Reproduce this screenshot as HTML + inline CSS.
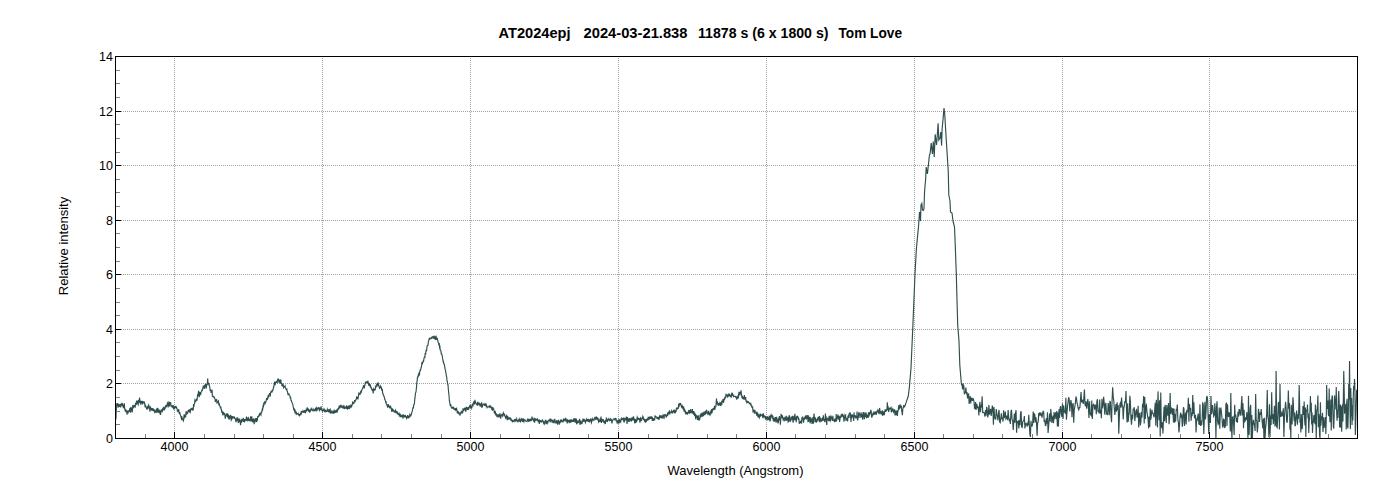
<!DOCTYPE html>
<html><head><meta charset="utf-8"><style>
html,body{margin:0;padding:0;background:#fff;}
body{width:1400px;height:500px;overflow:hidden;}
svg{display:block;}
text{font-family:"Liberation Sans",sans-serif;font-size:13px;fill:#000;}
.ttl text{font-weight:bold;font-size:14px;}
.g{stroke:#a0a0a0;stroke-width:1;stroke-dasharray:1 1;}
</style></head><body>
<svg width="1400" height="500" viewBox="0 0 1400 500">
<rect x="0" y="0" width="1400" height="500" fill="#fff"/>
<line x1="174.5" y1="58" x2="174.5" y2="438" class="g"/><line x1="322.5" y1="58" x2="322.5" y2="438" class="g"/><line x1="470.5" y1="58" x2="470.5" y2="438" class="g"/><line x1="618.5" y1="58" x2="618.5" y2="438" class="g"/><line x1="766.5" y1="58" x2="766.5" y2="438" class="g"/><line x1="914.5" y1="58" x2="914.5" y2="438" class="g"/><line x1="1062.5" y1="58" x2="1062.5" y2="438" class="g"/><line x1="1209.5" y1="58" x2="1209.5" y2="438" class="g"/><line x1="117" y1="383.5" x2="1357" y2="383.5" class="g"/><line x1="117" y1="329.5" x2="1357" y2="329.5" class="g"/><line x1="117" y1="274.5" x2="1357" y2="274.5" class="g"/><line x1="117" y1="220.5" x2="1357" y2="220.5" class="g"/><line x1="117" y1="165.5" x2="1357" y2="165.5" class="g"/><line x1="117" y1="111.5" x2="1357" y2="111.5" class="g"/>
<defs><clipPath id="c"><rect x="115" y="56" width="1242" height="382"/></clipPath></defs>
<path d="M115.90 419.56 L116.15 413.53 L116.40 405.65 L116.73 404.07 L117.07 404.55 L117.40 403.18 L117.73 405.11 L118.07 407.66 L118.40 404.18 L118.74 404.19 L119.08 406.62 L119.42 406.53 L119.76 406.12 L120.10 404.11 L120.44 405.94 L120.78 407.47 L121.12 403.58 L121.46 405.52 L121.80 402.84 L122.11 404.20 L122.43 403.20 L122.74 406.45 L123.06 404.48 L123.37 407.61 L123.69 407.50 L124.00 406.95 L124.33 403.31 L124.67 408.20 L125.00 410.15 L125.33 411.43 L125.67 409.12 L126.00 412.08 L126.35 411.02 L126.70 411.18 L127.05 414.61 L127.40 410.60 L127.75 411.83 L128.10 413.43 L128.45 410.44 L128.80 411.44 L129.14 411.43 L129.49 410.99 L129.83 408.15 L130.17 410.48 L130.51 412.78 L130.86 406.75 L131.20 411.18 L131.53 409.44 L131.86 407.57 L132.19 412.35 L132.51 409.38 L132.84 404.92 L133.17 406.86 L133.50 407.31 L133.84 405.44 L134.18 406.88 L134.52 405.16 L134.85 406.38 L135.19 407.61 L135.53 403.06 L135.87 404.37 L136.21 402.62 L136.55 403.42 L136.88 400.55 L137.22 401.58 L137.56 402.23 L137.90 404.27 L138.23 404.78 L138.55 399.77 L138.88 400.56 L139.21 403.09 L139.53 397.55 L139.86 400.37 L140.19 401.18 L140.51 403.47 L140.84 402.74 L141.17 401.34 L141.49 401.48 L141.82 401.81 L142.15 404.72 L142.47 401.49 L142.80 401.54 L143.12 402.93 L143.45 402.46 L143.77 402.62 L144.09 401.46 L144.42 403.62 L144.74 403.40 L145.06 406.57 L145.38 406.39 L145.71 405.97 L146.03 407.76 L146.35 406.75 L146.68 409.54 L147.00 408.30 L147.32 409.35 L147.65 406.37 L147.97 409.05 L148.29 405.75 L148.62 405.15 L148.94 407.88 L149.26 406.82 L149.58 408.46 L149.91 411.79 L150.23 406.82 L150.55 407.25 L150.88 408.75 L151.20 409.44 L151.53 408.53 L151.86 408.67 L152.19 410.33 L152.52 410.25 L152.85 408.00 L153.18 409.86 L153.51 410.39 L153.84 408.96 L154.16 411.41 L154.49 409.89 L154.82 413.10 L155.15 412.05 L155.48 412.02 L155.81 410.98 L156.14 411.70 L156.47 408.52 L156.80 409.74 L157.15 412.04 L157.50 407.91 L157.85 412.72 L158.20 408.57 L158.55 412.74 L158.90 410.29 L159.25 413.08 L159.60 412.20 L159.95 409.66 L160.30 414.35 L160.63 414.35 L160.95 411.61 L161.28 410.98 L161.61 410.86 L161.93 409.21 L162.26 412.23 L162.59 409.23 L162.91 409.67 L163.24 408.12 L163.57 408.07 L163.89 406.71 L164.22 410.52 L164.55 407.92 L164.87 409.40 L165.20 407.48 L165.52 406.11 L165.85 406.43 L166.17 405.73 L166.49 406.30 L166.82 405.33 L167.14 405.12 L167.46 403.07 L167.78 403.72 L168.11 407.47 L168.43 403.49 L168.75 402.68 L169.08 404.76 L169.40 406.36 L169.73 401.89 L170.05 404.12 L170.38 403.71 L170.71 402.21 L171.03 406.62 L171.36 405.78 L171.69 406.31 L172.01 405.34 L172.34 407.65 L172.67 406.36 L172.99 407.27 L173.32 405.87 L173.65 405.75 L173.97 409.80 L174.30 406.61 L174.65 407.86 L175.00 407.27 L175.35 406.56 L175.70 406.50 L176.05 408.52 L176.40 407.35 L176.75 408.06 L177.10 408.88 L177.45 411.28 L177.80 410.94 L178.12 411.10 L178.45 410.09 L178.77 409.17 L179.09 413.27 L179.42 413.61 L179.74 412.19 L180.06 413.82 L180.38 414.94 L180.71 415.94 L181.03 417.13 L181.35 415.96 L181.68 420.16 L182.00 416.58 L182.33 419.87 L182.66 419.07 L182.99 419.42 L183.32 420.78 L183.65 419.88 L183.98 415.40 L184.31 414.34 L184.64 418.22 L184.96 415.03 L185.29 416.33 L185.62 417.25 L185.95 412.64 L186.28 411.24 L186.61 414.47 L186.94 413.63 L187.27 412.81 L187.60 413.06 L187.93 411.35 L188.25 410.07 L188.58 412.04 L188.91 410.52 L189.23 409.23 L189.56 412.54 L189.89 411.47 L190.21 412.06 L190.54 409.57 L190.87 409.79 L191.19 408.82 L191.52 408.53 L191.85 409.82 L192.17 407.82 L192.50 409.31 L192.85 408.47 L193.20 410.36 L193.55 403.93 L193.90 406.67 L194.25 404.13 L194.60 403.33 L194.95 400.15 L195.30 400.95 L195.65 402.10 L196.00 399.93 L196.32 399.75 L196.65 398.68 L196.97 400.56 L197.29 398.21 L197.62 394.23 L197.94 396.19 L198.26 393.57 L198.58 390.91 L198.91 394.75 L199.23 397.24 L199.55 394.72 L199.88 392.40 L200.20 392.47 L200.55 395.16 L200.90 392.88 L201.25 391.93 L201.60 390.91 L201.95 390.14 L202.30 390.45 L202.65 389.13 L203.00 387.75 L203.33 385.52 L203.67 387.96 L204.00 385.99 L204.33 388.83 L204.67 384.87 L205.00 386.46 L205.33 386.36 L205.67 383.89 L206.00 388.54 L206.33 387.52 L206.67 383.87 L207.00 385.35 L207.33 384.14 L207.67 378.66 L208.00 382.61 L208.33 383.04 L208.67 384.18 L209.00 383.17 L209.38 385.68 L209.75 386.98 L210.12 390.31 L210.50 390.07 L210.81 389.96 L211.12 392.98 L211.44 390.26 L211.75 391.27 L212.06 389.75 L212.38 396.06 L212.69 395.89 L213.00 396.62 L213.33 396.88 L213.67 396.63 L214.00 397.48 L214.33 397.38 L214.67 398.07 L215.00 399.04 L215.33 401.87 L215.67 400.71 L216.00 400.05 L216.33 399.53 L216.67 399.77 L217.00 403.72 L217.33 402.25 L217.67 401.81 L218.00 401.38 L218.35 400.90 L218.70 403.35 L219.05 405.68 L219.40 404.48 L219.75 405.68 L220.10 406.68 L220.45 408.26 L220.80 406.55 L221.15 409.79 L221.50 409.79 L221.86 413.06 L222.22 410.80 L222.58 413.38 L222.94 415.34 L223.30 412.84 L223.63 412.52 L223.95 414.07 L224.28 414.12 L224.61 412.95 L224.93 415.76 L225.26 418.70 L225.59 415.34 L225.91 415.62 L226.24 414.29 L226.57 416.42 L226.89 413.72 L227.22 413.77 L227.55 417.51 L227.87 413.89 L228.20 417.10 L228.54 417.97 L228.88 416.12 L229.21 416.82 L229.55 419.33 L229.89 416.13 L230.22 415.80 L230.56 414.90 L230.90 417.49 L231.24 420.09 L231.57 419.41 L231.91 416.37 L232.25 416.42 L232.59 416.84 L232.92 417.96 L233.26 417.05 L233.60 417.71 L233.93 417.92 L234.26 417.13 L234.59 417.81 L234.92 418.53 L235.25 418.42 L235.58 419.74 L235.91 422.30 L236.24 420.55 L236.56 419.99 L236.89 417.45 L237.22 421.06 L237.55 417.51 L237.88 418.58 L238.21 422.42 L238.54 422.33 L238.87 421.06 L239.20 418.64 L239.53 420.71 L239.87 420.17 L240.20 422.34 L240.53 425.10 L240.87 421.99 L241.20 420.56 L241.53 419.98 L241.87 421.64 L242.20 421.08 L242.53 418.98 L242.87 420.46 L243.20 417.92 L243.53 421.29 L243.87 421.15 L244.20 421.34 L244.53 419.13 L244.87 421.05 L245.20 420.22 L245.53 419.84 L245.87 419.76 L246.20 417.94 L246.53 417.43 L246.86 420.86 L247.19 419.20 L247.52 419.91 L247.85 421.29 L248.18 416.98 L248.51 418.59 L248.84 420.14 L249.16 420.41 L249.49 419.01 L249.82 421.11 L250.15 419.61 L250.48 417.17 L250.81 417.56 L251.14 420.38 L251.47 419.93 L251.80 416.29 L252.13 421.80 L252.46 420.85 L252.79 422.28 L253.12 419.61 L253.45 419.77 L253.78 418.35 L254.11 424.19 L254.44 419.77 L254.76 422.71 L255.09 419.28 L255.42 420.80 L255.75 417.97 L256.08 420.04 L256.41 422.06 L256.74 418.10 L257.07 421.44 L257.40 419.81 L257.72 416.79 L258.05 416.97 L258.37 416.42 L258.69 416.55 L259.02 415.29 L259.34 414.39 L259.66 414.83 L259.98 413.26 L260.31 413.30 L260.63 414.22 L260.95 414.80 L261.28 411.75 L261.60 412.94 L261.95 410.79 L262.30 409.00 L262.65 409.58 L263.00 406.73 L263.35 407.56 L263.70 403.77 L264.05 404.49 L264.40 403.29 L264.75 402.20 L265.10 403.13 L265.45 401.80 L265.80 402.03 L266.15 400.68 L266.50 398.85 L266.85 399.18 L267.20 398.63 L267.55 399.12 L267.90 396.66 L268.25 397.16 L268.60 394.88 L268.95 396.92 L269.30 394.48 L269.65 393.15 L270.00 394.54 L270.35 395.24 L270.70 391.94 L271.05 392.03 L271.40 392.04 L271.75 391.22 L272.10 392.35 L272.45 390.46 L272.80 389.84 L273.14 389.85 L273.48 386.99 L273.82 386.92 L274.16 384.12 L274.50 382.66 L274.83 381.64 L275.17 385.29 L275.50 382.54 L275.83 382.69 L276.17 381.89 L276.50 381.56 L276.83 381.27 L277.17 383.16 L277.50 379.91 L277.83 379.32 L278.17 379.86 L278.50 379.44 L278.83 381.91 L279.17 382.18 L279.50 380.43 L279.83 380.14 L280.17 381.45 L280.50 383.56 L280.88 379.67 L281.25 384.00 L281.62 383.04 L282.00 386.13 L282.33 384.19 L282.67 385.35 L283.00 384.28 L283.33 385.03 L283.67 387.73 L284.00 387.26 L284.35 386.45 L284.70 386.45 L285.05 385.85 L285.40 387.96 L285.75 388.82 L286.10 389.25 L286.45 389.73 L286.80 389.14 L287.15 390.97 L287.50 391.69 L287.85 393.81 L288.20 395.11 L288.55 393.64 L288.90 393.67 L289.25 395.14 L289.60 395.26 L289.95 396.13 L290.30 397.82 L290.65 397.67 L291.00 400.34 L291.35 400.46 L291.70 401.76 L292.05 402.49 L292.40 403.17 L292.75 404.27 L293.10 406.45 L293.45 407.57 L293.80 409.88 L294.15 410.37 L294.50 409.62 L294.85 411.84 L295.20 410.98 L295.55 412.42 L295.90 413.40 L296.22 411.59 L296.55 413.99 L296.87 414.08 L297.19 413.79 L297.52 413.60 L297.84 413.85 L298.16 413.47 L298.48 414.52 L298.81 414.45 L299.13 415.27 L299.45 413.87 L299.78 415.34 L300.10 415.09 L300.42 414.24 L300.75 413.37 L301.07 413.89 L301.39 410.95 L301.72 412.74 L302.04 412.09 L302.36 411.85 L302.68 411.82 L303.01 410.71 L303.33 411.23 L303.65 412.32 L303.98 412.17 L304.30 411.90 L304.63 410.08 L304.95 412.21 L305.28 412.69 L305.61 412.24 L305.93 411.09 L306.26 408.86 L306.59 411.33 L306.91 410.02 L307.24 407.43 L307.57 410.64 L307.89 408.76 L308.22 409.11 L308.55 409.92 L308.87 411.99 L309.20 410.13 L309.53 410.70 L309.86 412.12 L310.19 411.77 L310.52 409.78 L310.85 409.54 L311.18 408.41 L311.51 409.04 L311.84 410.31 L312.16 410.34 L312.49 410.08 L312.82 411.03 L313.15 409.07 L313.48 409.73 L313.81 410.46 L314.14 410.19 L314.47 410.65 L314.80 409.90 L315.13 409.17 L315.46 409.95 L315.79 408.51 L316.12 407.83 L316.45 410.22 L316.78 409.52 L317.11 409.88 L317.44 407.70 L317.76 409.14 L318.09 408.90 L318.42 408.63 L318.75 407.11 L319.08 409.13 L319.41 410.37 L319.74 409.72 L320.07 408.60 L320.40 409.23 L320.73 410.12 L321.06 406.39 L321.39 409.28 L321.72 410.00 L322.05 410.11 L322.38 411.15 L322.71 410.48 L323.04 409.58 L323.36 409.61 L323.69 410.27 L324.02 409.02 L324.35 409.79 L324.68 411.05 L325.01 412.40 L325.34 410.26 L325.67 410.45 L326.00 410.71 L326.33 411.96 L326.66 410.46 L326.99 412.04 L327.32 409.38 L327.65 410.20 L327.98 410.18 L328.31 411.27 L328.64 411.63 L328.96 409.01 L329.29 409.85 L329.62 411.43 L329.95 410.57 L330.28 409.83 L330.61 412.76 L330.94 412.33 L331.27 412.50 L331.60 411.64 L331.92 413.29 L332.25 411.93 L332.57 413.36 L332.89 411.16 L333.22 411.20 L333.54 412.32 L333.86 411.33 L334.18 412.81 L334.51 412.36 L334.83 411.06 L335.15 412.09 L335.48 411.54 L335.80 412.76 L336.13 410.59 L336.45 410.25 L336.78 411.48 L337.11 412.04 L337.43 411.28 L337.76 408.74 L338.09 408.54 L338.41 409.68 L338.74 407.69 L339.07 406.64 L339.39 407.71 L339.72 407.96 L340.05 406.43 L340.37 405.35 L340.70 405.31 L341.04 407.68 L341.39 406.17 L341.73 406.81 L342.07 407.15 L342.42 407.58 L342.76 406.59 L343.11 407.61 L343.45 406.29 L343.79 407.06 L344.14 406.54 L344.48 409.02 L344.82 407.88 L345.17 407.17 L345.51 407.64 L345.86 407.81 L346.20 408.82 L346.54 406.04 L346.88 406.35 L347.22 406.79 L347.55 409.71 L347.89 407.85 L348.23 406.60 L348.57 407.43 L348.91 408.81 L349.25 406.22 L349.58 405.87 L349.92 407.32 L350.26 406.26 L350.60 406.19 L350.94 404.65 L351.28 407.04 L351.62 406.57 L351.95 405.06 L352.29 404.86 L352.63 401.55 L352.97 404.04 L353.31 402.77 L353.65 403.13 L353.98 403.16 L354.32 401.86 L354.66 400.23 L355.00 402.25 L355.34 400.49 L355.69 400.33 L356.03 399.38 L356.38 399.00 L356.72 396.22 L357.06 399.39 L357.41 397.73 L357.75 398.07 L358.09 398.46 L358.44 395.87 L358.78 393.51 L359.12 394.17 L359.47 393.53 L359.81 393.96 L360.16 394.15 L360.50 391.34 L360.83 393.09 L361.17 390.23 L361.50 391.32 L361.83 390.08 L362.17 389.15 L362.50 388.77 L362.83 387.68 L363.17 387.02 L363.50 385.26 L363.81 386.44 L364.12 387.81 L364.44 387.26 L364.75 385.85 L365.06 384.49 L365.38 382.35 L365.69 384.02 L366.00 381.82 L366.33 381.97 L366.66 381.88 L366.99 382.42 L367.32 381.95 L367.65 382.46 L367.98 381.55 L368.31 382.54 L368.64 385.67 L368.97 383.39 L369.30 383.43 L369.62 384.98 L369.95 385.82 L370.27 384.45 L370.60 386.00 L370.93 387.80 L371.25 387.73 L371.57 388.24 L371.90 390.50 L372.23 388.84 L372.55 390.44 L372.88 390.58 L373.20 393.51 L373.55 389.24 L373.89 389.99 L374.24 389.46 L374.58 390.03 L374.93 389.28 L375.27 389.48 L375.62 385.67 L375.96 387.57 L376.31 385.80 L376.65 384.72 L377.00 385.31 L377.34 383.80 L377.68 382.67 L378.02 384.74 L378.35 383.85 L378.69 385.19 L379.03 386.78 L379.37 387.20 L379.71 389.01 L380.05 387.43 L380.38 386.25 L380.72 387.29 L381.06 387.31 L381.40 387.22 L381.73 390.13 L382.06 390.12 L382.39 389.82 L382.72 393.76 L383.05 393.80 L383.38 395.11 L383.71 395.57 L384.04 396.89 L384.37 397.10 L384.70 399.40 L385.01 399.57 L385.33 400.69 L385.64 401.89 L385.96 401.02 L386.27 403.47 L386.59 404.32 L386.90 405.71 L387.23 404.20 L387.56 407.62 L387.89 406.21 L388.22 405.08 L388.55 404.84 L388.88 406.67 L389.21 407.11 L389.54 406.61 L389.87 407.62 L390.20 406.98 L390.53 408.46 L390.86 407.33 L391.19 408.38 L391.52 409.82 L391.85 411.89 L392.18 408.39 L392.51 409.34 L392.84 409.33 L393.17 411.51 L393.50 409.87 L393.84 410.98 L394.18 411.83 L394.52 411.09 L394.86 411.31 L395.19 411.95 L395.53 410.27 L395.87 411.04 L396.21 412.24 L396.55 412.98 L396.89 412.79 L397.23 411.28 L397.57 412.91 L397.91 414.50 L398.24 414.47 L398.58 414.05 L398.92 413.47 L399.26 415.44 L399.60 414.47 L399.93 414.05 L400.26 414.64 L400.59 417.22 L400.93 416.00 L401.26 417.09 L401.59 415.37 L401.92 416.94 L402.25 415.29 L402.58 415.76 L402.92 418.55 L403.25 416.62 L403.58 415.21 L403.91 415.69 L404.24 416.27 L404.57 417.47 L404.91 415.92 L405.24 414.85 L405.57 416.67 L405.90 417.16 L406.23 417.06 L406.56 418.15 L406.89 416.88 L407.22 417.27 L407.56 415.09 L407.89 417.14 L408.22 418.39 L408.55 416.88 L408.88 416.21 L409.21 415.99 L409.54 417.62 L409.88 414.54 L410.21 415.26 L410.54 415.70 L410.87 415.80 L411.20 414.30 L411.52 413.92 L411.84 412.13 L412.16 411.44 L412.48 410.09 L412.80 407.94 L413.12 408.07 L413.44 407.90 L413.76 404.70 L414.08 404.21 L414.40 403.89 L414.74 399.05 L415.09 397.44 L415.43 393.14 L415.78 392.55 L416.12 390.88 L416.47 387.65 L416.81 382.38 L417.16 380.62 L417.50 377.22 L417.82 376.48 L418.14 377.36 L418.46 373.58 L418.78 375.44 L419.10 373.49 L419.42 374.26 L419.74 372.08 L420.06 370.23 L420.38 370.29 L420.70 369.78 L421.02 367.78 L421.35 367.02 L421.67 364.73 L421.99 361.90 L422.32 364.22 L422.64 363.18 L422.96 361.83 L423.28 361.00 L423.61 361.23 L423.93 358.70 L424.25 357.41 L424.58 356.87 L424.90 357.22 L425.22 353.14 L425.55 354.65 L425.87 351.45 L426.19 349.75 L426.52 351.10 L426.84 348.40 L427.16 345.81 L427.48 345.45 L427.81 345.40 L428.13 344.20 L428.45 340.98 L428.78 340.48 L429.10 339.55 L429.42 337.95 L429.75 339.01 L430.07 338.64 L430.39 338.14 L430.72 338.16 L431.04 338.62 L431.36 338.32 L431.68 337.32 L432.01 337.04 L432.33 338.26 L432.65 336.88 L432.98 337.26 L433.30 337.33 L433.62 336.86 L433.95 338.91 L434.27 335.82 L434.59 337.85 L434.92 336.89 L435.24 339.47 L435.56 339.49 L435.88 335.72 L436.21 336.97 L436.53 338.96 L436.85 339.38 L437.18 339.63 L437.50 339.06 L437.84 341.00 L438.19 342.51 L438.53 342.95 L438.88 345.32 L439.22 342.93 L439.57 347.26 L439.91 346.73 L440.26 350.22 L440.60 350.32 L440.92 351.01 L441.25 353.74 L441.57 353.67 L441.89 354.92 L442.22 355.43 L442.54 358.27 L442.86 359.99 L443.18 361.70 L443.51 361.57 L443.83 363.98 L444.15 364.03 L444.48 365.12 L444.80 367.08 L445.12 369.49 L445.44 369.89 L445.76 371.91 L446.08 373.92 L446.40 376.12 L446.72 377.00 L447.04 381.02 L447.36 381.38 L447.68 384.19 L448.00 384.66 L448.33 389.25 L448.67 392.65 L449.00 395.20 L449.40 400.99 L449.80 402.40 L450.15 405.26 L450.50 405.69 L450.85 405.20 L451.20 406.70 L451.54 407.92 L451.89 407.81 L452.23 408.07 L452.57 407.99 L452.91 406.64 L453.26 408.66 L453.60 406.80 L453.94 409.73 L454.28 408.65 L454.62 408.76 L454.96 409.42 L455.30 410.11 L455.64 408.49 L455.98 408.40 L456.32 409.44 L456.66 408.71 L457.00 410.22 L457.33 413.41 L457.67 410.96 L458.00 413.17 L458.33 411.27 L458.67 413.29 L459.00 412.76 L459.33 413.17 L459.67 413.98 L460.00 415.61 L460.33 413.50 L460.67 413.17 L461.00 411.66 L461.33 413.23 L461.67 411.95 L462.00 412.83 L462.33 411.38 L462.67 413.03 L463.00 408.29 L463.33 409.97 L463.67 411.13 L464.00 409.51 L464.34 408.82 L464.67 409.22 L465.01 407.65 L465.35 409.15 L465.68 411.66 L466.02 410.03 L466.36 407.38 L466.69 407.70 L467.03 408.29 L467.37 409.93 L467.71 407.70 L468.04 407.69 L468.38 409.34 L468.72 409.13 L469.05 407.54 L469.39 406.55 L469.73 405.93 L470.06 406.78 L470.40 404.77 L470.72 407.94 L471.04 405.94 L471.36 406.84 L471.68 408.07 L472.00 406.89 L472.32 403.84 L472.64 405.88 L472.96 405.86 L473.28 403.22 L473.60 402.51 L473.94 403.17 L474.28 401.13 L474.62 404.51 L474.95 399.90 L475.29 401.51 L475.63 402.73 L475.97 403.12 L476.31 403.94 L476.65 404.37 L476.98 404.00 L477.32 405.64 L477.66 401.76 L478.00 404.16 L478.33 403.35 L478.67 404.40 L479.00 404.58 L479.33 403.34 L479.67 403.71 L480.00 405.37 L480.33 404.78 L480.67 403.45 L481.00 406.52 L481.33 406.78 L481.67 402.40 L482.00 404.56 L482.33 407.28 L482.67 405.40 L483.00 404.84 L483.33 404.39 L483.67 404.04 L484.00 404.46 L484.34 404.16 L484.67 405.80 L485.01 404.62 L485.35 404.76 L485.68 404.10 L486.02 405.68 L486.36 404.91 L486.69 405.93 L487.03 407.52 L487.37 406.86 L487.71 407.13 L488.04 407.03 L488.38 406.73 L488.72 406.50 L489.05 406.24 L489.39 407.42 L489.73 405.22 L490.06 408.07 L490.40 406.63 L490.73 406.11 L491.07 406.88 L491.40 407.19 L491.73 408.71 L492.07 408.17 L492.40 410.77 L492.73 408.88 L493.07 407.46 L493.40 409.61 L493.73 408.51 L494.07 411.25 L494.40 413.00 L494.73 412.95 L495.07 411.02 L495.40 412.05 L495.73 415.34 L496.07 413.93 L496.40 413.85 L496.73 415.36 L497.07 417.26 L497.40 416.17 L497.73 415.08 L498.07 415.64 L498.40 416.30 L498.73 414.98 L499.06 414.59 L499.39 416.01 L499.72 414.91 L500.05 415.95 L500.38 416.08 L500.71 418.60 L501.04 414.72 L501.36 415.39 L501.69 415.13 L502.02 415.62 L502.35 416.14 L502.68 414.22 L503.01 413.78 L503.34 412.85 L503.67 413.80 L504.00 415.68 L504.33 415.55 L504.67 414.81 L505.00 416.09 L505.33 417.07 L505.67 418.04 L506.00 417.05 L506.33 417.63 L506.67 415.90 L507.00 416.76 L507.33 420.10 L507.67 415.78 L508.00 418.08 L508.34 418.86 L508.69 418.26 L509.03 417.85 L509.37 418.83 L509.71 419.06 L510.06 419.22 L510.40 417.46 L510.73 419.69 L511.07 419.12 L511.40 419.72 L511.74 420.82 L512.08 421.39 L512.41 421.66 L512.75 419.91 L513.08 421.38 L513.41 421.48 L513.75 421.29 L514.09 421.51 L514.42 419.74 L514.75 419.80 L515.09 421.12 L515.42 418.75 L515.76 420.80 L516.10 420.14 L516.43 420.51 L516.76 419.01 L517.10 420.02 L517.44 420.93 L517.78 421.80 L518.11 421.71 L518.45 420.27 L518.79 420.00 L519.13 419.16 L519.47 420.57 L519.81 419.84 L520.14 420.94 L520.48 422.46 L520.82 420.58 L521.16 419.05 L521.50 419.87 L521.84 419.12 L522.17 419.26 L522.51 421.98 L522.85 420.54 L523.19 418.41 L523.53 420.97 L523.86 421.75 L524.20 419.91 L524.54 419.54 L524.88 419.86 L525.22 420.45 L525.56 420.73 L525.89 421.26 L526.23 421.26 L526.57 421.27 L526.91 421.58 L527.25 420.92 L527.59 418.53 L527.92 420.32 L528.26 420.93 L528.60 420.12 L528.94 421.54 L529.27 419.84 L529.61 418.90 L529.94 421.37 L530.28 420.22 L530.61 419.55 L530.95 420.33 L531.28 420.53 L531.62 419.75 L531.95 416.56 L532.29 418.74 L532.62 419.13 L532.96 418.68 L533.29 420.26 L533.63 421.62 L533.96 419.79 L534.30 419.07 L534.64 422.68 L534.97 419.60 L535.31 418.46 L535.64 419.98 L535.98 420.07 L536.31 418.74 L536.65 420.57 L536.98 419.22 L537.32 418.88 L537.65 420.34 L537.99 421.17 L538.32 419.64 L538.66 420.86 L538.99 420.46 L539.33 423.98 L539.66 419.94 L540.00 422.44 L540.33 420.85 L540.66 420.76 L540.99 421.64 L541.31 421.70 L541.64 422.03 L541.97 420.90 L542.30 419.90 L542.63 420.15 L542.96 421.61 L543.29 421.93 L543.61 423.10 L543.94 422.15 L544.27 423.11 L544.60 423.88 L544.94 422.38 L545.28 420.56 L545.62 420.99 L545.96 420.69 L546.30 424.12 L546.64 421.04 L546.98 423.16 L547.32 422.07 L547.66 423.09 L548.00 422.00 L548.34 420.51 L548.68 420.25 L549.02 420.47 L549.36 420.51 L549.70 419.66 L550.04 420.29 L550.38 422.29 L550.72 418.51 L551.06 420.89 L551.40 419.60 L551.74 421.01 L552.08 421.90 L552.41 421.00 L552.75 422.14 L553.09 419.56 L553.43 422.89 L553.77 421.01 L554.11 422.51 L554.44 422.00 L554.78 418.72 L555.12 420.80 L555.46 421.89 L555.80 423.44 L556.14 421.98 L556.47 422.00 L556.81 420.12 L557.15 423.50 L557.49 423.95 L557.83 421.85 L558.16 421.50 L558.50 419.79 L558.84 422.64 L559.18 424.70 L559.52 422.31 L559.86 422.86 L560.19 421.90 L560.53 419.97 L560.87 422.52 L561.21 419.36 L561.55 420.43 L561.89 420.93 L562.22 421.62 L562.56 421.13 L562.90 421.19 L563.24 419.90 L563.57 419.31 L563.91 420.90 L564.24 419.98 L564.58 419.25 L564.91 419.31 L565.25 420.27 L565.58 418.76 L565.92 419.45 L566.25 419.19 L566.59 421.33 L566.92 421.57 L567.26 423.38 L567.59 419.21 L567.93 420.09 L568.26 421.89 L568.60 420.53 L568.93 420.50 L569.27 423.05 L569.60 420.89 L569.93 420.18 L570.27 420.18 L570.60 422.18 L570.93 422.04 L571.27 419.84 L571.60 419.98 L571.93 421.46 L572.27 421.32 L572.60 419.82 L572.93 421.33 L573.27 421.35 L573.60 418.65 L573.93 420.37 L574.27 421.18 L574.60 419.98 L574.93 418.14 L575.27 420.39 L575.60 421.73 L575.93 422.86 L576.27 418.59 L576.60 424.33 L576.94 420.00 L577.27 422.50 L577.61 422.91 L577.95 422.75 L578.29 421.90 L578.62 420.48 L578.96 422.62 L579.30 421.05 L579.63 418.87 L579.97 425.03 L580.31 422.46 L580.64 423.70 L580.98 420.50 L581.32 423.34 L581.66 423.59 L581.99 423.66 L582.33 421.92 L582.67 420.58 L583.00 421.76 L583.34 419.28 L583.68 419.69 L584.01 421.54 L584.35 419.98 L584.69 420.62 L585.03 420.37 L585.36 422.48 L585.70 421.56 L586.04 419.89 L586.37 421.38 L586.71 419.18 L587.04 419.86 L587.38 421.46 L587.71 419.02 L588.05 420.14 L588.38 418.86 L588.72 420.48 L589.05 422.24 L589.39 419.49 L589.72 420.71 L590.06 419.46 L590.39 419.16 L590.73 418.98 L591.06 421.98 L591.40 422.85 L591.74 420.45 L592.07 418.87 L592.41 420.41 L592.74 419.11 L593.08 420.40 L593.41 419.76 L593.75 419.69 L594.08 419.99 L594.42 418.48 L594.75 418.54 L595.09 416.84 L595.42 418.20 L595.76 416.96 L596.09 418.42 L596.43 417.50 L596.76 418.80 L597.10 419.30 L597.43 417.35 L597.76 418.29 L598.09 418.37 L598.41 420.57 L598.74 421.92 L599.07 421.10 L599.40 419.83 L599.73 421.99 L600.06 418.46 L600.39 421.87 L600.71 419.20 L601.04 416.61 L601.37 422.93 L601.70 421.75 L602.03 418.86 L602.36 420.51 L602.69 420.33 L603.01 420.98 L603.34 419.37 L603.67 420.50 L604.00 422.00 L604.33 421.67 L604.66 422.75 L605.00 421.34 L605.33 423.88 L605.66 420.15 L605.99 421.12 L606.33 418.41 L606.66 419.04 L606.99 421.98 L607.32 419.28 L607.65 420.98 L607.99 420.25 L608.32 419.02 L608.65 419.72 L608.98 419.38 L609.32 419.27 L609.65 420.61 L609.98 420.45 L610.31 419.02 L610.65 418.71 L610.98 420.22 L611.31 419.93 L611.64 421.40 L611.97 423.41 L612.31 421.35 L612.64 420.29 L612.97 420.04 L613.30 419.09 L613.64 418.85 L613.97 418.56 L614.30 419.11 L614.64 418.98 L614.97 420.27 L615.31 418.89 L615.65 419.13 L615.98 418.03 L616.32 421.55 L616.66 420.45 L616.99 422.20 L617.33 421.26 L617.67 422.22 L618.01 420.24 L618.34 421.33 L618.68 423.55 L619.02 418.80 L619.35 421.47 L619.69 421.97 L620.03 420.52 L620.36 420.96 L620.70 421.64 L621.04 418.69 L621.37 420.11 L621.71 418.12 L622.04 418.36 L622.38 418.49 L622.71 419.29 L623.05 419.83 L623.38 420.35 L623.72 417.59 L624.05 422.51 L624.39 421.13 L624.72 420.29 L625.06 418.49 L625.39 418.74 L625.73 419.62 L626.06 419.48 L626.40 416.55 L626.74 420.41 L627.07 423.90 L627.41 417.09 L627.74 421.40 L628.08 420.49 L628.41 419.71 L628.75 421.80 L629.08 417.93 L629.42 419.85 L629.75 421.73 L630.09 419.22 L630.42 418.81 L630.76 419.47 L631.09 418.51 L631.43 421.34 L631.76 417.67 L632.10 420.36 L632.44 417.31 L632.78 420.37 L633.12 419.54 L633.46 416.23 L633.81 420.42 L634.15 419.17 L634.49 420.35 L634.83 423.43 L635.17 419.52 L635.51 419.48 L635.85 422.88 L636.19 420.43 L636.54 421.91 L636.88 419.44 L637.22 417.07 L637.56 417.91 L637.90 419.74 L638.24 419.49 L638.57 418.48 L638.91 419.01 L639.24 419.21 L639.58 418.87 L639.91 422.78 L640.25 419.98 L640.58 418.20 L640.92 418.97 L641.25 420.50 L641.59 420.13 L641.92 418.78 L642.26 417.89 L642.59 418.90 L642.93 416.45 L643.26 417.08 L643.60 420.25 L643.94 418.43 L644.27 419.74 L644.61 421.03 L644.94 420.26 L645.28 419.43 L645.61 422.66 L645.95 420.59 L646.28 419.14 L646.62 420.76 L646.95 420.27 L647.29 418.39 L647.62 419.77 L647.96 419.43 L648.29 416.79 L648.63 419.44 L648.96 419.21 L649.30 418.83 L649.64 416.70 L649.97 418.22 L650.31 418.30 L650.64 418.23 L650.98 416.28 L651.31 418.96 L651.65 416.45 L651.98 418.23 L652.32 420.81 L652.65 418.10 L652.99 418.53 L653.32 420.94 L653.66 418.75 L653.99 418.77 L654.33 419.35 L654.66 420.35 L655.00 415.30 L655.34 417.13 L655.67 416.74 L656.01 416.60 L656.34 416.99 L656.68 417.10 L657.01 418.86 L657.35 417.11 L657.68 418.55 L658.02 418.82 L658.35 416.95 L658.69 417.95 L659.02 419.89 L659.36 417.66 L659.69 416.00 L660.03 416.68 L660.36 415.34 L660.70 417.07 L661.04 417.95 L661.37 415.49 L661.71 416.39 L662.04 418.30 L662.38 415.86 L662.71 416.77 L663.05 414.86 L663.38 415.01 L663.72 415.28 L664.05 418.97 L664.39 415.05 L664.72 414.69 L665.06 414.48 L665.39 414.90 L665.73 415.92 L666.06 415.06 L666.40 417.52 L666.74 414.62 L667.07 416.21 L667.41 414.42 L667.74 414.88 L668.08 411.96 L668.41 413.88 L668.75 413.90 L669.08 413.46 L669.42 410.41 L669.75 414.42 L670.09 412.26 L670.42 411.94 L670.76 412.05 L671.09 412.04 L671.43 412.97 L671.76 410.59 L672.10 411.12 L672.43 412.84 L672.76 412.52 L673.09 411.59 L673.41 411.07 L673.74 410.47 L674.07 411.41 L674.40 413.08 L674.73 409.78 L675.06 413.42 L675.39 412.32 L675.71 410.28 L676.04 411.87 L676.37 408.45 L676.70 407.92 L677.02 408.07 L677.34 408.87 L677.67 408.50 L677.99 407.69 L678.31 407.98 L678.63 404.11 L678.96 407.20 L679.28 403.72 L679.60 404.07 L679.93 404.57 L680.27 403.67 L680.60 403.55 L680.93 404.33 L681.27 406.07 L681.60 407.33 L681.93 407.74 L682.27 405.99 L682.60 406.79 L682.93 407.08 L683.27 409.49 L683.60 406.31 L683.92 411.38 L684.24 409.27 L684.56 409.21 L684.89 411.18 L685.21 412.49 L685.53 411.75 L685.85 412.96 L686.17 411.82 L686.49 413.58 L686.81 413.83 L687.14 412.14 L687.46 414.59 L687.78 412.95 L688.10 412.96 L688.43 411.30 L688.76 411.98 L689.09 413.32 L689.41 410.17 L689.74 412.95 L690.07 412.55 L690.40 412.52 L690.73 409.03 L691.06 412.13 L691.39 413.25 L691.71 411.25 L692.04 412.51 L692.37 409.00 L692.70 413.47 L693.03 411.90 L693.36 414.48 L693.69 410.96 L694.03 415.02 L694.36 414.12 L694.69 416.08 L695.02 414.02 L695.35 414.86 L695.68 419.33 L696.02 415.19 L696.35 415.60 L696.68 416.41 L697.01 415.51 L697.34 418.87 L697.67 419.84 L698.01 416.58 L698.34 415.38 L698.67 419.87 L699.00 420.11 L699.33 419.33 L699.67 419.44 L700.00 416.15 L700.33 416.75 L700.67 414.53 L701.00 413.93 L701.33 416.75 L701.67 413.67 L702.00 417.22 L702.33 413.80 L702.67 412.61 L703.00 414.61 L703.33 416.03 L703.67 414.11 L704.00 411.59 L704.33 413.79 L704.67 415.11 L705.00 412.30 L705.33 411.78 L705.67 414.27 L706.00 412.94 L706.33 411.09 L706.67 412.06 L707.00 411.46 L707.33 412.95 L707.67 412.72 L708.00 414.34 L708.33 413.83 L708.67 410.72 L709.00 413.70 L709.33 414.50 L709.67 413.88 L710.00 414.66 L710.33 412.30 L710.67 411.60 L711.00 414.14 L711.33 411.02 L711.67 409.11 L712.00 413.27 L712.33 410.30 L712.67 410.48 L713.00 408.55 L713.31 408.28 L713.62 408.21 L713.94 409.07 L714.25 409.84 L714.56 405.70 L714.88 409.77 L715.19 406.66 L715.50 406.55 L715.83 406.59 L716.17 403.11 L716.50 398.66 L716.88 404.34 L717.25 401.25 L717.62 403.61 L718.00 404.29 L718.33 405.93 L718.67 403.17 L719.00 405.25 L719.33 402.74 L719.67 405.42 L720.00 402.62 L720.33 403.02 L720.67 405.97 L721.00 403.31 L721.33 402.60 L721.67 405.27 L722.00 402.22 L722.33 400.23 L722.67 402.20 L723.00 399.18 L723.33 402.23 L723.67 402.03 L724.00 399.11 L724.33 398.50 L724.67 399.10 L725.00 398.27 L725.33 396.25 L725.67 397.92 L726.00 393.67 L726.33 395.61 L726.67 395.41 L727.00 395.51 L727.33 396.37 L727.67 394.26 L728.00 396.99 L728.33 395.94 L728.67 395.21 L729.00 393.96 L729.33 394.32 L729.67 396.48 L730.00 394.38 L730.33 395.58 L730.67 396.69 L731.00 396.30 L731.33 396.75 L731.67 393.82 L732.00 392.55 L732.33 395.58 L732.67 394.69 L733.00 396.11 L733.33 394.70 L733.67 396.62 L734.00 396.33 L734.33 396.35 L734.67 396.25 L735.00 396.34 L735.33 396.39 L735.67 396.70 L736.00 398.14 L736.33 396.29 L736.67 399.77 L737.00 397.25 L737.33 398.53 L737.67 396.56 L738.00 395.80 L738.33 398.46 L738.67 394.43 L739.00 392.35 L739.33 392.50 L739.67 392.45 L740.00 395.48 L740.33 392.29 L740.67 393.15 L741.00 390.38 L741.33 393.54 L741.67 395.29 L742.00 398.17 L742.33 395.70 L742.67 398.52 L743.00 398.83 L743.33 397.08 L743.67 398.53 L744.00 398.09 L744.33 395.01 L744.67 399.17 L745.00 399.14 L745.33 397.96 L745.67 397.07 L746.00 401.66 L746.33 400.50 L746.67 402.15 L747.00 403.21 L747.33 400.80 L747.67 402.98 L748.00 401.62 L748.33 401.99 L748.67 402.07 L749.00 402.34 L749.33 404.18 L749.67 403.11 L750.00 403.18 L750.33 403.74 L750.67 405.40 L751.00 404.34 L751.33 405.54 L751.67 406.72 L752.00 406.44 L752.33 407.52 L752.67 407.27 L753.00 411.54 L753.33 411.11 L753.67 410.37 L754.00 410.13 L754.33 413.62 L754.67 411.16 L755.00 410.81 L755.33 411.66 L755.67 411.99 L756.00 413.94 L756.33 412.27 L756.67 415.74 L757.00 411.92 L757.33 414.70 L757.67 412.81 L758.00 417.44 L758.33 414.76 L758.67 415.49 L759.00 417.13 L759.33 417.71 L759.67 414.28 L760.00 415.29 L760.33 413.69 L760.67 415.85 L761.00 415.54 L761.33 415.30 L761.67 414.96 L762.00 415.52 L762.33 415.01 L762.67 416.82 L763.00 418.23 L763.33 413.32 L763.67 416.09 L764.00 415.90 L764.33 417.50 L764.67 415.71 L765.00 417.10 L765.33 416.01 L765.67 418.66 L766.00 417.97 L766.33 417.72 L766.67 418.66 L767.00 417.95 L767.33 416.22 L767.67 419.38 L768.00 418.89 L768.33 418.11 L768.67 419.55 L769.00 419.70 L769.33 416.25 L769.67 416.63 L770.00 420.70 L770.33 420.41 L770.67 415.76 L771.00 414.87 L771.33 416.18 L771.67 416.73 L772.00 414.71 L772.33 418.58 L772.67 416.13 L773.00 416.61 L773.33 421.44 L773.67 418.11 L774.00 419.43 L774.33 420.84 L774.67 421.05 L775.00 418.37 L775.34 418.98 L775.67 417.01 L776.01 422.59 L776.35 420.35 L776.68 416.75 L777.02 419.31 L777.36 420.96 L777.69 420.47 L778.03 423.32 L778.37 422.22 L778.71 417.96 L779.04 418.82 L779.38 416.18 L779.72 419.44 L780.05 419.19 L780.39 424.63 L780.73 418.85 L781.06 413.89 L781.40 416.67 L781.74 418.16 L782.08 415.09 L782.41 415.99 L782.75 417.34 L783.09 419.31 L783.43 418.72 L783.77 417.61 L784.11 421.53 L784.44 418.77 L784.78 418.79 L785.12 416.73 L785.46 417.85 L785.80 420.81 L786.14 415.80 L786.47 419.05 L786.81 420.69 L787.15 418.27 L787.49 419.59 L787.83 416.70 L788.16 421.99 L788.50 421.57 L788.84 419.64 L789.18 415.17 L789.52 416.43 L789.86 420.50 L790.19 421.83 L790.53 418.59 L790.87 420.59 L791.21 416.65 L791.55 417.72 L791.89 418.39 L792.22 419.63 L792.56 415.77 L792.90 421.46 L793.24 422.51 L793.57 417.26 L793.91 416.75 L794.24 420.23 L794.58 417.77 L794.91 413.74 L795.25 420.28 L795.58 418.54 L795.92 416.85 L796.25 422.19 L796.59 417.78 L796.92 415.88 L797.26 417.94 L797.59 415.84 L797.93 416.91 L798.26 419.87 L798.60 418.29 L798.94 418.90 L799.27 423.81 L799.61 422.29 L799.94 422.29 L800.28 421.68 L800.61 421.44 L800.95 423.28 L801.28 419.80 L801.62 423.59 L801.95 417.36 L802.29 418.83 L802.62 416.46 L802.96 418.79 L803.29 420.68 L803.63 422.63 L803.96 417.89 L804.30 419.11 L804.64 418.12 L804.97 417.16 L805.31 416.14 L805.64 418.86 L805.98 415.01 L806.31 418.98 L806.65 418.72 L806.98 417.14 L807.32 416.23 L807.65 415.28 L807.99 422.21 L808.32 415.26 L808.66 421.65 L808.99 419.86 L809.33 418.13 L809.66 416.76 L810.00 421.73 L810.34 423.27 L810.67 417.44 L811.01 418.70 L811.34 421.57 L811.68 420.10 L812.01 423.88 L812.35 418.50 L812.68 420.97 L813.02 416.96 L813.35 423.84 L813.69 417.23 L814.02 413.53 L814.36 417.67 L814.69 417.54 L815.03 422.16 L815.36 417.67 L815.70 418.79 L816.04 420.43 L816.37 422.75 L816.71 419.21 L817.04 421.52 L817.38 420.28 L817.71 418.40 L818.05 419.10 L818.38 418.90 L818.72 416.82 L819.05 421.45 L819.39 416.00 L819.72 421.80 L820.06 421.69 L820.39 419.77 L820.73 418.54 L821.06 419.70 L821.40 420.97 L821.74 421.13 L822.07 419.67 L822.41 420.80 L822.74 417.27 L823.08 419.03 L823.41 415.38 L823.75 420.75 L824.08 419.72 L824.42 418.68 L824.75 422.13 L825.09 421.08 L825.42 413.44 L825.76 419.56 L826.09 416.33 L826.43 421.79 L826.76 424.88 L827.10 418.34 L827.44 419.50 L827.78 418.57 L828.11 419.58 L828.45 419.89 L828.79 420.98 L829.13 415.85 L829.47 421.25 L829.81 415.83 L830.14 418.53 L830.48 420.58 L830.82 419.80 L831.16 416.39 L831.50 417.00 L831.84 417.55 L832.17 418.42 L832.51 421.01 L832.85 415.80 L833.19 419.71 L833.53 420.16 L833.86 420.15 L834.20 419.95 L834.54 422.08 L834.88 419.62 L835.22 420.15 L835.56 419.30 L835.89 421.86 L836.23 413.91 L836.57 420.91 L836.91 417.75 L837.25 417.87 L837.59 416.50 L837.92 414.63 L838.26 417.91 L838.60 417.33 L838.94 419.95 L839.27 415.74 L839.61 421.96 L839.94 419.28 L840.28 417.85 L840.61 416.46 L840.95 415.88 L841.28 414.79 L841.62 415.80 L841.95 416.84 L842.29 416.39 L842.62 413.74 L842.96 416.31 L843.29 415.13 L843.63 417.65 L843.96 421.64 L844.30 419.31 L844.64 417.62 L844.97 415.10 L845.31 415.83 L845.64 415.48 L845.98 420.89 L846.31 417.80 L846.65 419.59 L846.98 417.95 L847.32 419.15 L847.65 421.45 L847.99 416.29 L848.32 416.34 L848.66 414.71 L848.99 417.87 L849.33 413.52 L849.66 413.27 L850.00 412.86 L850.34 413.05 L850.67 417.35 L851.01 422.07 L851.34 414.48 L851.68 418.74 L852.01 417.27 L852.35 414.42 L852.68 416.29 L853.02 416.44 L853.35 415.41 L853.69 420.92 L854.02 412.41 L854.36 417.15 L854.69 416.96 L855.03 415.04 L855.36 416.75 L855.70 418.43 L856.04 416.87 L856.37 417.31 L856.71 417.66 L857.04 411.49 L857.38 418.82 L857.71 420.36 L858.05 417.43 L858.38 417.43 L858.72 412.17 L859.05 414.99 L859.39 413.58 L859.72 414.24 L860.06 417.83 L860.39 414.28 L860.73 416.01 L861.06 412.41 L861.40 416.34 L861.74 416.86 L862.08 414.95 L862.41 414.56 L862.75 419.74 L863.09 412.63 L863.43 412.65 L863.77 413.00 L864.11 417.28 L864.44 419.26 L864.78 415.48 L865.12 413.24 L865.46 413.86 L865.80 417.02 L866.14 412.66 L866.47 417.68 L866.81 417.55 L867.15 414.66 L867.49 415.96 L867.83 416.24 L868.16 417.96 L868.50 412.21 L868.84 416.82 L869.18 413.22 L869.52 412.15 L869.86 413.88 L870.19 413.10 L870.53 411.38 L870.87 410.01 L871.21 411.39 L871.55 416.54 L871.89 417.68 L872.22 414.95 L872.56 416.30 L872.90 412.86 L873.24 414.05 L873.57 415.03 L873.91 412.20 L874.24 412.37 L874.58 414.56 L874.91 413.38 L875.25 411.43 L875.58 414.19 L875.92 412.42 L876.25 414.85 L876.59 412.29 L876.92 411.33 L877.26 411.95 L877.59 411.03 L877.93 409.76 L878.26 410.24 L878.60 412.72 L878.94 412.59 L879.27 414.14 L879.61 407.92 L879.94 410.99 L880.28 411.23 L880.61 412.77 L880.95 411.65 L881.28 411.67 L881.62 414.54 L881.95 413.24 L882.29 410.30 L882.62 415.66 L882.96 414.92 L883.29 411.54 L883.63 414.60 L883.96 411.19 L884.30 415.10 L884.64 411.94 L884.97 410.29 L885.31 410.74 L885.64 409.43 L885.98 411.10 L886.31 410.78 L886.65 410.32 L886.98 408.95 L887.32 402.20 L887.65 410.23 L887.99 405.79 L888.32 410.22 L888.66 411.92 L888.99 409.88 L889.33 408.34 L889.66 408.79 L890.00 408.99 L890.34 408.27 L890.67 408.39 L891.01 407.79 L891.34 412.40 L891.68 409.76 L892.01 411.79 L892.35 409.13 L892.68 409.85 L893.02 409.48 L893.35 411.11 L893.69 412.25 L894.02 411.39 L894.36 409.81 L894.69 409.91 L895.03 415.40 L895.36 411.30 L895.70 411.25 L896.03 414.94 L896.37 413.96 L896.70 412.58 L897.03 410.35 L897.37 416.02 L897.70 411.42 L898.03 411.29 L898.37 409.17 L898.70 405.88 L899.03 405.46 L899.37 408.74 L899.70 408.42 L900.03 407.00 L900.37 405.21 L900.70 405.06 L901.03 408.00 L901.37 406.04 L901.70 411.40 L902.03 411.93 L902.37 415.25 L902.70 410.54 L903.03 407.92 L903.37 407.47 L903.70 405.03 L904.03 406.79 L904.36 406.42 L904.69 406.71 L905.01 405.64 L905.34 404.83 L905.67 403.68 L906.00 402.90 L906.33 401.91 L906.66 400.93 L906.99 399.94 L907.31 398.96 L907.64 397.97 L907.97 396.99 L908.30 396.00 L908.67 392.97 L909.03 389.93 L909.40 386.90 L909.72 383.16 L910.04 379.42 L910.36 375.68 L910.68 371.94 L911.00 368.20 L911.32 361.00 L911.63 353.80 L911.95 346.60 L912.27 339.40 L912.58 332.20 L912.90 325.00 L913.25 316.50 L913.60 308.00 L913.95 299.50 L914.30 291.00 L914.65 282.50 L915.00 274.00 L915.33 268.00 L915.65 262.00 L915.97 256.00 L916.30 250.00 L916.62 246.45 L916.95 242.90 L917.27 239.35 L917.60 235.80 L917.90 232.87 L918.20 229.93 L918.50 227.00 L918.83 222.00 L919.17 217.00 L919.50 212.00 L919.75 213.00 L920.00 214.00 L920.25 217.50 L920.50 221.00 L920.75 213.00 L921.00 205.00 L921.40 204.25 L921.80 203.50 L922.15 206.75 L922.50 210.00 L922.83 210.17 L923.17 210.33 L923.50 210.50 L923.75 209.25 L924.00 208.00 L924.25 200.50 L924.50 193.00 L924.75 189.50 L925.00 186.00 L925.30 183.00 L925.60 180.00 L925.90 173.50 L926.20 167.00 L926.50 168.75 L926.80 170.50 L927.10 172.25 L927.40 174.00 L927.77 170.67 L928.13 167.33 L928.50 164.00 L928.90 160.00 L929.30 156.00 L929.60 155.00 L929.90 154.00 L930.20 153.00 L930.53 149.67 L930.87 146.33 L931.20 143.00 L931.50 145.75 L931.80 148.50 L932.10 151.25 L932.40 154.00 L932.70 149.87 L933.00 145.73 L933.30 141.60 L933.60 146.73 L933.90 151.87 L934.20 157.00 L934.53 149.47 L934.87 141.93 L935.20 134.40 L935.53 137.05 L935.85 139.70 L936.17 142.35 L936.50 145.00 L936.80 141.50 L937.10 138.00 L937.43 133.07 L937.77 128.13 L938.10 123.20 L938.45 131.60 L938.80 140.00 L939.10 139.50 L939.40 139.00 L939.70 138.50 L940.00 138.00 L940.40 135.00 L940.80 132.00 L941.20 138.80 L941.60 145.60 L941.85 137.30 L942.10 129.00 L942.50 125.00 L942.90 121.00 L943.27 116.67 L943.63 112.33 L944.00 108.00 L944.40 111.50 L944.80 115.00 L945.20 122.00 L945.60 129.00 L945.93 134.33 L946.27 139.67 L946.60 145.00 L946.94 150.40 L947.28 155.80 L947.62 161.20 L947.96 166.60 L948.30 172.00 L948.50 182.00 L948.80 195.00 L949.10 196.50 L949.40 198.00 L949.70 199.50 L950.00 201.00 L950.25 206.50 L950.50 212.00 L950.88 212.25 L951.25 212.50 L951.62 212.75 L952.00 213.00 L952.33 215.67 L952.67 218.33 L953.00 221.00 L953.38 222.50 L953.75 224.00 L954.12 225.50 L954.50 227.00 L954.85 235.40 L955.20 243.80 L955.57 253.87 L955.93 263.93 L956.30 274.00 L956.65 286.75 L957.00 299.50 L957.35 312.25 L957.70 325.00 L958.03 329.00 L958.35 333.00 L958.67 337.00 L959.00 341.00 L959.40 353.00 L959.80 365.00 L960.12 368.84 L960.44 372.68 L960.76 376.52 L961.08 380.36 L961.40 384.20 L961.74 384.89 L962.09 383.68 L962.43 388.23 L962.77 389.35 L963.11 383.29 L963.46 389.23 L963.80 385.23 L964.33 394.26 L964.87 392.82 L965.40 392.07 L965.93 387.64 L966.47 394.46 L967.00 391.93 L967.53 398.38 L968.07 395.63 L968.60 393.42 L969.13 403.89 L969.67 400.66 L970.20 395.96 L970.73 403.54 L971.27 398.25 L971.80 398.76 L972.34 400.94 L972.88 397.87 L973.42 399.56 L973.96 401.12 L974.51 408.33 L975.05 408.65 L975.59 402.05 L976.13 409.97 L976.67 403.80 L977.21 405.93 L977.75 408.39 L978.29 406.46 L978.84 415.40 L979.38 407.15 L979.92 401.83 L980.46 412.28 L981.00 405.85 L981.57 406.62 L982.13 396.21 L982.70 412.52 L983.26 412.13 L983.83 412.39 L984.39 413.45 L984.96 416.64 L985.52 409.96 L986.09 415.71 L986.65 406.80 L987.22 409.28 L987.78 417.38 L988.35 414.06 L988.91 404.91 L989.48 414.57 L990.04 411.92 L990.61 408.76 L991.17 415.99 L991.74 411.72 L992.30 405.64 L992.87 408.51 L993.43 424.69 L994.00 406.97 L994.57 416.64 L995.13 418.88 L995.70 419.15 L996.26 409.01 L996.83 414.10 L997.39 416.75 L997.96 420.49 L998.52 412.66 L999.09 409.92 L999.65 421.94 L1000.22 422.62 L1000.78 418.69 L1001.35 413.42 L1001.91 419.12 L1002.48 417.60 L1003.04 421.72 L1003.61 410.35 L1004.17 417.97 L1004.74 416.57 L1005.30 411.46 L1005.87 418.86 L1006.43 417.98 L1007.00 415.64 L1007.57 420.10 L1008.13 410.15 L1008.70 417.68 L1009.26 420.38 L1009.83 419.59 L1010.39 423.98 L1010.96 411.48 L1011.52 409.82 L1012.09 419.45 L1012.65 420.66 L1013.22 429.85 L1013.78 421.60 L1014.35 413.43 L1014.91 422.70 L1015.48 413.64 L1016.04 410.15 L1016.61 432.69 L1017.17 421.60 L1017.74 422.33 L1018.30 421.52 L1018.87 428.41 L1019.43 420.04 L1020.00 425.20 L1020.55 413.02 L1021.09 411.19 L1021.64 426.87 L1022.19 427.31 L1022.74 422.18 L1023.28 420.79 L1023.83 420.63 L1024.38 416.10 L1024.93 428.53 L1025.47 423.86 L1026.02 423.19 L1026.57 424.31 L1027.12 426.52 L1027.66 423.71 L1028.21 425.20 L1028.76 414.85 L1029.31 424.26 L1029.85 433.66 L1030.40 437.00 L1030.96 420.81 L1031.51 426.15 L1032.07 426.23 L1032.63 424.12 L1033.19 411.51 L1033.74 422.89 L1034.30 413.34 L1034.86 415.04 L1035.41 422.31 L1035.97 417.39 L1036.53 423.19 L1037.09 435.77 L1037.64 422.45 L1038.20 421.88 L1038.75 413.11 L1039.29 414.64 L1039.84 412.46 L1040.39 415.52 L1040.94 412.58 L1041.48 415.09 L1042.03 417.71 L1042.58 413.49 L1043.13 411.33 L1043.67 411.78 L1044.22 421.90 L1044.77 419.87 L1045.32 425.32 L1045.86 425.56 L1046.41 418.08 L1046.96 423.77 L1047.51 412.30 L1048.05 432.92 L1048.60 427.07 L1049.15 419.04 L1049.69 413.56 L1050.24 421.77 L1050.79 409.12 L1051.34 414.85 L1051.88 422.98 L1052.43 419.33 L1052.98 415.61 L1053.53 423.27 L1054.07 412.05 L1054.62 419.06 L1055.17 414.48 L1055.72 412.28 L1056.26 419.22 L1056.81 410.93 L1057.36 426.58 L1057.91 412.63 L1058.45 426.52 L1059.00 409.28 L1059.58 418.04 L1060.16 407.52 L1060.73 406.16 L1061.31 413.98 L1061.89 416.76 L1062.47 403.48 L1063.04 418.87 L1063.62 405.40 L1064.20 410.85 L1064.76 412.25 L1065.31 413.44 L1065.87 397.67 L1066.43 419.66 L1066.99 412.58 L1067.54 405.95 L1068.10 401.84 L1068.66 397.27 L1069.21 399.22 L1069.77 411.40 L1070.33 405.43 L1070.89 400.07 L1071.44 403.79 L1072.00 417.17 L1072.57 404.79 L1073.13 403.07 L1073.70 422.61 L1074.26 409.74 L1074.83 406.96 L1075.39 402.66 L1075.96 396.45 L1076.52 398.87 L1077.09 403.29 L1077.65 404.92 L1078.22 408.60 L1078.78 409.80 L1079.35 407.60 L1079.91 407.52 L1080.48 399.47 L1081.04 391.95 L1081.61 402.51 L1082.17 399.62 L1082.74 401.52 L1083.30 403.91 L1083.87 397.55 L1084.43 389.50 L1085.00 404.85 L1085.57 406.27 L1086.13 401.28 L1086.70 408.80 L1087.26 404.16 L1087.83 398.98 L1088.39 405.90 L1088.96 417.89 L1089.52 401.29 L1090.09 413.28 L1090.65 414.67 L1091.22 415.48 L1091.78 400.41 L1092.35 418.88 L1092.91 406.56 L1093.48 404.18 L1094.04 404.35 L1094.61 409.78 L1095.17 406.22 L1095.74 404.76 L1096.30 414.28 L1096.87 401.26 L1097.43 399.20 L1098.00 411.16 L1098.57 410.70 L1099.13 413.35 L1099.70 399.40 L1100.26 413.52 L1100.83 409.74 L1101.39 418.19 L1101.96 398.74 L1102.52 408.39 L1103.09 405.29 L1103.65 396.88 L1104.22 402.69 L1104.78 414.79 L1105.35 404.53 L1105.91 403.01 L1106.48 413.47 L1107.04 414.38 L1107.61 414.48 L1108.17 403.06 L1108.74 407.94 L1109.30 415.13 L1109.87 400.88 L1110.43 402.31 L1111.00 415.84 L1111.56 422.23 L1112.11 399.30 L1112.67 387.17 L1113.22 397.06 L1113.78 400.93 L1114.33 408.52 L1114.89 415.07 L1115.44 408.74 L1116.00 404.18 L1116.56 411.59 L1117.11 402.25 L1117.67 410.18 L1118.22 405.27 L1118.78 433.66 L1119.33 417.96 L1119.89 404.07 L1120.44 402.84 L1121.00 407.74 L1121.56 397.63 L1122.11 405.55 L1122.67 405.64 L1123.22 419.57 L1123.78 408.58 L1124.33 405.64 L1124.89 401.11 L1125.44 402.65 L1126.00 391.00 L1126.55 410.97 L1127.10 422.44 L1127.66 403.17 L1128.21 421.80 L1128.76 414.99 L1129.31 412.76 L1129.86 395.73 L1130.41 401.83 L1130.97 419.10 L1131.52 424.68 L1132.07 414.55 L1132.62 419.28 L1133.17 409.33 L1133.72 409.64 L1134.28 407.16 L1134.83 421.08 L1135.38 415.71 L1135.93 410.81 L1136.48 410.01 L1137.03 417.53 L1137.59 415.55 L1138.14 405.73 L1138.69 427.39 L1139.24 414.98 L1139.79 412.89 L1140.34 425.36 L1140.90 421.50 L1141.45 412.05 L1142.00 417.36 L1142.55 403.76 L1143.10 407.46 L1143.66 396.00 L1144.21 423.39 L1144.76 396.94 L1145.31 418.92 L1145.86 406.13 L1146.41 404.92 L1146.97 411.64 L1147.52 415.62 L1148.07 418.61 L1148.62 428.52 L1149.17 416.57 L1149.72 427.05 L1150.28 408.54 L1150.83 419.75 L1151.38 415.04 L1151.93 409.86 L1152.48 413.03 L1153.03 413.38 L1153.59 415.58 L1154.14 417.43 L1154.69 409.74 L1155.24 402.79 L1155.79 425.62 L1156.34 399.81 L1156.90 409.03 L1157.45 427.54 L1158.00 391.39 L1158.55 408.51 L1159.10 420.25 L1159.66 400.37 L1160.21 436.48 L1160.76 392.40 L1161.31 426.61 L1161.86 427.64 L1162.41 422.19 L1162.97 433.60 L1163.52 417.44 L1164.07 406.77 L1164.62 421.28 L1165.17 404.88 L1165.72 412.07 L1166.28 422.87 L1166.83 404.93 L1167.38 411.30 L1167.93 415.80 L1168.48 402.99 L1169.03 424.30 L1169.59 417.30 L1170.14 393.00 L1170.69 414.00 L1171.24 407.81 L1171.79 408.81 L1172.34 415.05 L1172.90 408.37 L1173.45 422.60 L1174.00 408.41 L1174.55 422.74 L1175.10 414.03 L1175.66 421.67 L1176.21 409.80 L1176.76 410.11 L1177.31 404.60 L1177.86 419.31 L1178.41 422.37 L1178.97 432.41 L1179.52 425.37 L1180.07 416.52 L1180.62 412.61 L1181.17 417.70 L1181.72 414.16 L1182.28 426.84 L1182.83 422.42 L1183.38 407.29 L1183.93 408.56 L1184.48 426.02 L1185.03 417.02 L1185.59 412.43 L1186.14 424.48 L1186.69 411.11 L1187.24 412.02 L1187.79 410.48 L1188.34 397.73 L1188.90 421.75 L1189.45 404.12 L1190.00 409.57 L1190.55 408.13 L1191.10 420.69 L1191.66 413.98 L1192.21 414.75 L1192.76 395.00 L1193.31 413.99 L1193.86 402.24 L1194.41 417.45 L1194.97 418.01 L1195.52 414.80 L1196.07 432.37 L1196.62 419.55 L1197.17 420.18 L1197.72 416.38 L1198.28 413.59 L1198.83 423.49 L1199.38 424.70 L1199.93 404.33 L1200.48 425.99 L1201.03 420.64 L1201.59 425.17 L1202.14 420.28 L1202.69 403.23 L1203.24 403.99 L1203.79 434.03 L1204.34 418.36 L1204.90 401.72 L1205.45 419.43 L1206.00 412.38 L1206.55 397.68 L1207.10 396.00 L1207.66 400.30 L1208.21 419.16 L1208.76 434.00 L1209.31 414.17 L1209.86 419.62 L1210.41 422.89 L1210.97 395.97 L1211.52 414.09 L1212.07 408.93 L1212.62 404.99 L1213.17 411.96 L1213.72 416.32 L1214.28 414.99 L1214.83 403.22 L1215.38 413.04 L1215.93 438.00 L1216.48 407.55 L1217.03 401.34 L1217.59 421.07 L1218.14 424.39 L1218.69 423.18 L1219.24 407.45 L1219.79 428.74 L1220.34 411.02 L1220.90 407.63 L1221.45 413.00 L1222.00 418.11 L1222.55 426.23 L1223.10 425.22 L1223.66 418.64 L1224.21 428.09 L1224.76 419.46 L1225.31 427.50 L1225.86 404.39 L1226.41 402.58 L1226.97 425.96 L1227.52 404.20 L1228.07 414.97 L1228.62 416.89 L1229.17 412.89 L1229.72 413.12 L1230.28 431.47 L1230.83 393.00 L1231.38 426.16 L1231.93 438.00 L1232.48 417.34 L1233.03 416.80 L1233.59 424.15 L1234.14 435.06 L1234.69 404.78 L1235.24 417.43 L1235.79 414.58 L1236.34 421.92 L1236.90 417.81 L1237.45 422.71 L1238.00 411.78 L1238.55 416.60 L1239.10 409.52 L1239.66 409.69 L1240.21 415.03 L1240.76 415.13 L1241.31 404.94 L1241.86 396.00 L1242.41 415.53 L1242.97 403.16 L1243.52 428.12 L1244.07 409.73 L1244.62 422.41 L1245.17 417.26 L1245.72 420.05 L1246.28 419.37 L1246.83 412.01 L1247.38 418.29 L1247.93 438.00 L1248.48 395.72 L1249.03 435.00 L1249.59 422.67 L1250.14 407.90 L1250.69 404.83 L1251.24 438.00 L1251.79 415.04 L1252.34 438.00 L1252.90 424.34 L1253.45 419.85 L1254.00 423.96 L1254.55 425.51 L1255.10 430.91 L1255.66 394.00 L1256.21 420.48 L1256.76 420.76 L1257.31 432.47 L1257.86 427.08 L1258.41 408.85 L1258.97 412.47 L1259.52 422.09 L1260.07 412.52 L1260.62 414.94 L1261.17 409.10 L1261.72 416.00 L1262.28 422.82 L1262.83 428.49 L1263.38 418.59 L1263.93 438.00 L1264.48 417.65 L1265.03 438.00 L1265.59 428.35 L1266.14 423.26 L1266.69 413.26 L1267.24 389.96 L1267.79 416.61 L1268.34 419.91 L1268.90 437.31 L1269.45 404.24 L1270.00 437.06 L1270.56 415.38 L1271.11 425.02 L1271.67 392.27 L1272.22 418.95 L1272.78 414.01 L1273.33 424.16 L1273.89 418.13 L1274.44 405.69 L1275.00 426.47 L1275.56 423.84 L1276.11 371.00 L1276.67 426.76 L1277.22 427.57 L1277.78 416.23 L1278.33 402.76 L1278.89 402.37 L1279.44 429.61 L1280.00 384.00 L1280.56 416.91 L1281.11 411.43 L1281.67 415.98 L1282.22 415.80 L1282.78 412.08 L1283.33 408.34 L1283.89 436.87 L1284.44 417.40 L1285.00 408.94 L1285.56 401.87 L1286.11 407.52 L1286.67 421.86 L1287.22 422.14 L1287.78 412.26 L1288.33 390.50 L1288.89 408.73 L1289.44 403.03 L1290.00 429.62 L1290.42 418.45 L1290.83 438.00 L1291.25 404.86 L1291.67 412.27 L1292.08 424.49 L1292.50 410.93 L1292.92 397.20 L1293.33 402.45 L1293.75 415.02 L1294.17 421.21 L1294.58 412.64 L1295.00 425.79 L1295.42 425.64 L1295.83 417.58 L1296.25 414.01 L1296.67 410.63 L1297.08 420.26 L1297.50 424.66 L1297.92 414.33 L1298.33 418.98 L1298.75 409.67 L1299.17 385.00 L1299.58 401.51 L1300.00 422.69 L1300.42 418.84 L1300.83 432.54 L1301.25 414.11 L1301.67 423.79 L1302.08 429.27 L1302.50 425.31 L1302.92 406.05 L1303.33 411.12 L1303.75 414.87 L1304.17 401.46 L1304.58 418.96 L1305.00 425.54 L1305.42 407.46 L1305.83 436.88 L1306.25 409.70 L1306.67 410.73 L1307.08 410.29 L1307.50 404.63 L1307.92 418.12 L1308.33 413.32 L1308.75 433.00 L1309.17 420.33 L1309.58 419.47 L1310.00 410.34 L1310.42 396.03 L1310.83 411.93 L1311.25 402.80 L1311.67 424.42 L1312.08 412.63 L1312.50 432.99 L1312.92 421.82 L1313.33 423.03 L1313.75 415.77 L1314.17 415.50 L1314.58 420.84 L1315.00 424.07 L1315.42 404.47 L1315.83 418.91 L1316.25 438.00 L1316.67 411.92 L1317.08 409.93 L1317.50 404.69 L1317.92 395.62 L1318.33 427.27 L1318.75 413.73 L1319.17 416.60 L1319.58 435.14 L1320.00 438.00 L1320.42 402.34 L1320.83 425.65 L1321.25 420.49 L1321.67 417.80 L1322.08 418.76 L1322.50 412.74 L1322.92 432.10 L1323.33 426.32 L1323.75 417.16 L1324.17 427.99 L1324.58 423.79 L1325.00 423.00 L1325.42 416.95 L1325.83 434.10 L1326.25 419.15 L1326.67 385.00 L1327.08 402.75 L1327.50 408.91 L1327.92 400.44 L1328.33 414.33 L1328.75 416.12 L1329.17 388.43 L1329.58 413.25 L1330.00 422.13 L1330.42 415.29 L1330.83 399.51 L1331.25 430.55 L1331.67 402.95 L1332.08 395.42 L1332.50 397.41 L1332.92 412.25 L1333.33 426.13 L1333.75 428.60 L1334.17 415.14 L1334.58 395.40 L1335.00 402.83 L1335.42 399.38 L1335.83 409.36 L1336.25 386.94 L1336.67 413.25 L1337.08 420.63 L1337.50 409.43 L1337.92 417.88 L1338.33 398.21 L1338.75 390.90 L1339.17 402.26 L1339.58 427.30 L1340.00 425.43 L1340.42 404.53 L1340.83 427.70 L1341.25 406.21 L1341.67 431.84 L1342.08 417.35 L1342.50 404.18 L1342.92 421.56 L1343.33 399.50 L1343.75 371.00 L1344.17 389.86 L1344.58 413.70 L1345.00 409.26 L1345.41 408.71 L1345.83 403.85 L1346.24 429.51 L1346.66 403.24 L1347.07 398.84 L1347.48 426.20 L1347.90 428.45 L1348.31 413.09 L1348.72 383.78 L1349.14 399.54 L1349.55 361.00 L1349.97 407.96 L1350.38 429.07 L1350.79 387.97 L1351.21 416.39 L1351.62 397.91 L1352.03 425.01 L1352.45 405.22 L1352.86 420.50 L1353.28 396.80 L1353.69 385.92 L1354.10 389.90 L1354.52 379.00 L1354.93 390.69 L1355.34 435.08 L1355.76 423.37 L1356.17 408.24 L1356.59 389.73 L1357.00 402.34" fill="none" stroke="#2F4F4F" stroke-width="1.15" stroke-linejoin="miter" clip-path="url(#c)"/>
<rect x="115.5" y="56.5" width="1242" height="382" fill="none" stroke="#000" stroke-width="1"/>
<line x1="145.5" y1="434" x2="145.5" y2="438" stroke="#808080"/><line x1="174.5" y1="432" x2="174.5" y2="438" stroke="#000"/><line x1="204.5" y1="434" x2="204.5" y2="438" stroke="#808080"/><line x1="234.5" y1="434" x2="234.5" y2="438" stroke="#808080"/><line x1="263.5" y1="434" x2="263.5" y2="438" stroke="#808080"/><line x1="293.5" y1="434" x2="293.5" y2="438" stroke="#808080"/><line x1="322.5" y1="432" x2="322.5" y2="438" stroke="#000"/><line x1="352.5" y1="434" x2="352.5" y2="438" stroke="#808080"/><line x1="381.5" y1="434" x2="381.5" y2="438" stroke="#808080"/><line x1="411.5" y1="434" x2="411.5" y2="438" stroke="#808080"/><line x1="441.5" y1="434" x2="441.5" y2="438" stroke="#808080"/><line x1="470.5" y1="432" x2="470.5" y2="438" stroke="#000"/><line x1="500.5" y1="434" x2="500.5" y2="438" stroke="#808080"/><line x1="529.5" y1="434" x2="529.5" y2="438" stroke="#808080"/><line x1="559.5" y1="434" x2="559.5" y2="438" stroke="#808080"/><line x1="588.5" y1="434" x2="588.5" y2="438" stroke="#808080"/><line x1="618.5" y1="432" x2="618.5" y2="438" stroke="#000"/><line x1="648.5" y1="434" x2="648.5" y2="438" stroke="#808080"/><line x1="677.5" y1="434" x2="677.5" y2="438" stroke="#808080"/><line x1="707.5" y1="434" x2="707.5" y2="438" stroke="#808080"/><line x1="736.5" y1="434" x2="736.5" y2="438" stroke="#808080"/><line x1="766.5" y1="432" x2="766.5" y2="438" stroke="#000"/><line x1="795.5" y1="434" x2="795.5" y2="438" stroke="#808080"/><line x1="825.5" y1="434" x2="825.5" y2="438" stroke="#808080"/><line x1="855.5" y1="434" x2="855.5" y2="438" stroke="#808080"/><line x1="884.5" y1="434" x2="884.5" y2="438" stroke="#808080"/><line x1="914.5" y1="432" x2="914.5" y2="438" stroke="#000"/><line x1="943.5" y1="434" x2="943.5" y2="438" stroke="#808080"/><line x1="973.5" y1="434" x2="973.5" y2="438" stroke="#808080"/><line x1="1002.5" y1="434" x2="1002.5" y2="438" stroke="#808080"/><line x1="1032.5" y1="434" x2="1032.5" y2="438" stroke="#808080"/><line x1="1062.5" y1="432" x2="1062.5" y2="438" stroke="#000"/><line x1="1091.5" y1="434" x2="1091.5" y2="438" stroke="#808080"/><line x1="1121.5" y1="434" x2="1121.5" y2="438" stroke="#808080"/><line x1="1150.5" y1="434" x2="1150.5" y2="438" stroke="#808080"/><line x1="1180.5" y1="434" x2="1180.5" y2="438" stroke="#808080"/><line x1="1209.5" y1="432" x2="1209.5" y2="438" stroke="#000"/><line x1="1239.5" y1="434" x2="1239.5" y2="438" stroke="#808080"/><line x1="1269.5" y1="434" x2="1269.5" y2="438" stroke="#808080"/><line x1="1298.5" y1="434" x2="1298.5" y2="438" stroke="#808080"/><line x1="1328.5" y1="434" x2="1328.5" y2="438" stroke="#808080"/><line x1="116" y1="424.5" x2="120" y2="424.5" stroke="#808080"/><line x1="116" y1="411.5" x2="120" y2="411.5" stroke="#808080"/><line x1="116" y1="397.5" x2="120" y2="397.5" stroke="#808080"/><line x1="116" y1="383.5" x2="121" y2="383.5" stroke="#000"/><line x1="116" y1="370.5" x2="120" y2="370.5" stroke="#808080"/><line x1="116" y1="356.5" x2="120" y2="356.5" stroke="#808080"/><line x1="116" y1="342.5" x2="120" y2="342.5" stroke="#808080"/><line x1="116" y1="329.5" x2="121" y2="329.5" stroke="#000"/><line x1="116" y1="315.5" x2="120" y2="315.5" stroke="#808080"/><line x1="116" y1="302.5" x2="120" y2="302.5" stroke="#808080"/><line x1="116" y1="288.5" x2="120" y2="288.5" stroke="#808080"/><line x1="116" y1="274.5" x2="121" y2="274.5" stroke="#000"/><line x1="116" y1="261.5" x2="120" y2="261.5" stroke="#808080"/><line x1="116" y1="247.5" x2="120" y2="247.5" stroke="#808080"/><line x1="116" y1="233.5" x2="120" y2="233.5" stroke="#808080"/><line x1="116" y1="220.5" x2="121" y2="220.5" stroke="#000"/><line x1="116" y1="206.5" x2="120" y2="206.5" stroke="#808080"/><line x1="116" y1="192.5" x2="120" y2="192.5" stroke="#808080"/><line x1="116" y1="179.5" x2="120" y2="179.5" stroke="#808080"/><line x1="116" y1="165.5" x2="121" y2="165.5" stroke="#000"/><line x1="116" y1="152.5" x2="120" y2="152.5" stroke="#808080"/><line x1="116" y1="138.5" x2="120" y2="138.5" stroke="#808080"/><line x1="116" y1="124.5" x2="120" y2="124.5" stroke="#808080"/><line x1="116" y1="111.5" x2="121" y2="111.5" stroke="#000"/><line x1="116" y1="97.5" x2="120" y2="97.5" stroke="#808080"/><line x1="116" y1="83.5" x2="120" y2="83.5" stroke="#808080"/><line x1="116" y1="70.5" x2="120" y2="70.5" stroke="#808080"/>
<text x="174.5" y="451" text-anchor="middle" style="font-size:12.5px">4000</text><text x="322.5" y="451" text-anchor="middle" style="font-size:12.5px">4500</text><text x="470.5" y="451" text-anchor="middle" style="font-size:12.5px">5000</text><text x="618.5" y="451" text-anchor="middle" style="font-size:12.5px">5500</text><text x="766.5" y="451" text-anchor="middle" style="font-size:12.5px">6000</text><text x="914.5" y="451" text-anchor="middle" style="font-size:12.5px">6500</text><text x="1062.5" y="451" text-anchor="middle" style="font-size:12.5px">7000</text><text x="1209.5" y="451" text-anchor="middle" style="font-size:12.5px">7500</text><text x="113" y="442.5" text-anchor="end" style="font-size:12.5px">0</text><text x="113" y="387.5" text-anchor="end" style="font-size:12.5px">2</text><text x="113" y="333.5" text-anchor="end" style="font-size:12.5px">4</text><text x="113" y="278.5" text-anchor="end" style="font-size:12.5px">6</text><text x="113" y="224.5" text-anchor="end" style="font-size:12.5px">8</text><text x="113" y="169.5" text-anchor="end" style="font-size:12.5px">10</text><text x="113" y="115.5" text-anchor="end" style="font-size:12.5px">12</text><text x="113" y="60.5" text-anchor="end" style="font-size:12.5px">14</text>
<g class="ttl">
<text x="498.5" y="38" textLength="72" lengthAdjust="spacingAndGlyphs">AT2024epj</text>
<text x="583.5" y="38" textLength="104" lengthAdjust="spacingAndGlyphs">2024-03-21.838</text>
<text x="698" y="38" textLength="130.5" lengthAdjust="spacingAndGlyphs" xml:space="preserve">11878 s (6 x 1800 s)</text>
<text x="838.5" y="38" textLength="63.5" lengthAdjust="spacingAndGlyphs">Tom Love</text>
</g>
<text x="735.5" y="475" text-anchor="middle">Wavelength (Angstrom)</text>
<text transform="translate(68,246) rotate(-90)" text-anchor="middle">Relative intensity</text>
</svg>
</body></html>
